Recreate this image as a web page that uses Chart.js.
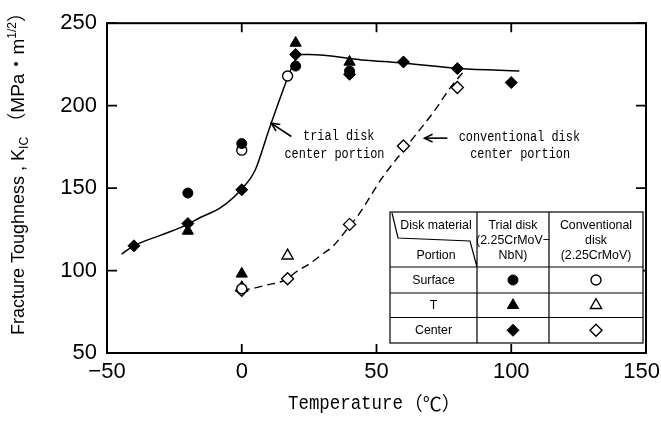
<!DOCTYPE html>
<html><head><meta charset="utf-8">
<script src="https://cdn.jsdelivr.net/npm/chart.js@4"></script>
<style>html,body{margin:0;padding:0;background:#fff}#wrap{width:661px;height:428px}</style>
</head><body><div id="wrap"><canvas id="c" width="661" height="428"></canvas></div>
<script>
// ---- data ----
const xTickValues = [-50, 0, 50, 100, 150];
const yTickValues = [50, 100, 150, 200, 250];

const trialSurfaceT = [-20, 0, 20, 40];
const trialSurfaceK = [147, 177, 224, 221];
const trialTT = [-20, 0, 20, 40];
const trialTK = [124, 98, 238, 226.5];
const trialCenterT = [-40, -20, 0, 20, 40, 60, 80, 100];
const trialCenterK = [115, 128.5, 149, 231, 219, 226.5, 222.5, 214];

const convSurfaceT = [0, 0, 17];
const convSurfaceK = [173, 89, 218];
const convTT = [0, 17];
const convTK = [89.5, 109];
const convCenterT = [0, 17, 40, 60, 80];
const convCenterK = [88, 95, 128, 175.5, 211];

const trialCurveT = [-44.6, -40, -30, -20, -15.6, -8, 0, 5, 10, 15, 18, 20, 22, 25, 46, 58.5, 80.7, 103];
const trialCurveK = [110, 115, 121.5, 128, 132, 138, 149.5, 161, 185, 208, 221, 228, 231, 231, 227.5, 226, 222.5, 221];
const convCurveT = [0, 5, 10, 15, 17, 20, 25, 30, 34, 40, 43, 52, 62, 72, 77, 83];
const convCurveK = [88, 89.5, 91.5, 93.5, 95, 99, 104, 110, 115, 127, 133, 156, 177, 198, 210, 222];

const tableHeader = ['Disk material', 'Portion'];
const tableCols = [['Trial disk', '(2.25CrMoV\u2212', 'NbN)'], ['Conventional', 'disk', '(2.25CrMoV)']];
const tableRows = ['Surface', 'T', 'Center'];
const tableStyles = ['circle', 'triangle', 'rectRot'];

const zip = (a, b) => a.map((v, i) => ({x: v, y: b[i]}));

function mk(label, T, K, style, filled, r) {
  return {label, data: zip(T, K), pointStyle: style, pointRadius: r, pointHoverRadius: r,
    backgroundColor: filled ? '#000' : '#fff', borderColor: '#000', borderWidth: filled ? 1 : 1.4, showLine: false};
}

const RAD = {circle: 5, triangle: 6.5, rectRot: 6};
const fmtX = v => (v < 0 ? '\u2212' + Math.abs(v) : '' + v);

function drawTextScaled(ctx, text, x, y, font, sx, align) {
  ctx.save();
  ctx.font = font;
  const w = ctx.measureText(text).width * sx;
  let x0 = x;
  if (align === 'center') x0 = x - w / 2;
  else if (align === 'right') x0 = x - w;
  ctx.translate(x0, y);
  ctx.scale(sx, 1);
  ctx.textAlign = 'left';
  ctx.textBaseline = 'middle';
  ctx.fillText(text, 0, 0);
  ctx.restore();
  return w;
}

function arrow(ctx, x1, y1, x2, y2) {
  ctx.save();
  ctx.strokeStyle = '#000'; ctx.lineWidth = 1.6;
  ctx.beginPath(); ctx.moveTo(x1, y1); ctx.lineTo(x2, y2); ctx.stroke();
  const a = Math.atan2(y2 - y1, x2 - x1), L = 9;
  ctx.beginPath();
  ctx.moveTo(x2 - L * Math.cos(a - 0.45), y2 - L * Math.sin(a - 0.45));
  ctx.lineTo(x2, y2);
  ctx.lineTo(x2 - L * Math.cos(a + 0.45), y2 - L * Math.sin(a + 0.45));
  ctx.stroke();
  ctx.restore();
}

const decor = {
  id: 'decor',
  afterDatasetsDraw(chart) {
    const ctx = chart.ctx, xs = chart.scales.x, ys = chart.scales.y, ca = chart.chartArea;
    ctx.save();
    ctx.fillStyle = '#000'; ctx.strokeStyle = '#000';
    // frame
    ctx.lineWidth = 2;
    ctx.strokeRect(ca.left, ca.top, ca.right - ca.left, ca.bottom - ca.top);
    // inward ticks
    ctx.lineWidth = 1.8;
    ctx.beginPath();
    xTickValues.forEach(v => {
      const px = xs.getPixelForValue(v);
      ctx.moveTo(px, ca.bottom); ctx.lineTo(px, ca.bottom - 9);
      ctx.moveTo(px, ca.top); ctx.lineTo(px, ca.top + 9);
    });
    yTickValues.forEach(v => {
      const py = ys.getPixelForValue(v);
      ctx.moveTo(ca.left, py); ctx.lineTo(ca.left + 10, py);
      ctx.moveTo(ca.right, py); ctx.lineTo(ca.right - 10, py);
    });
    ctx.stroke();

    // x tick labels (kept inside the canvas like the reference)
    const tickFont = '22px "Liberation Sans", Arial, sans-serif';
    ctx.font = tickFont;
    xs.ticks.forEach(t => {
      const s = fmtX(t.value);
      const w = ctx.measureText(s).width;
      let cx = xs.getPixelForValue(t.value);
      cx = Math.min(cx, chart.width - w / 2 - 1);
      drawTextScaled(ctx, s, cx, ca.bottom + 19, tickFont, 1, 'center');
    });

    // annotations
    const mono = '14px "Liberation Mono", "DejaVu Sans Mono", monospace';
    arrow(ctx, xs.getPixelForValue(18.4), ys.getPixelForValue(181.3), xs.getPixelForValue(11), ys.getPixelForValue(189.3));
    drawTextScaled(ctx, 'trial disk', xs.getPixelForValue(36), ys.getPixelForValue(181.3), mono, 0.85, 'center');
    drawTextScaled(ctx, 'center portion', xs.getPixelForValue(34.4), ys.getPixelForValue(170.5), mono, 0.85, 'center');
    arrow(ctx, xs.getPixelForValue(76.3), ys.getPixelForValue(180.3), xs.getPixelForValue(67.8), ys.getPixelForValue(180.3));
    drawTextScaled(ctx, 'conventional disk', xs.getPixelForValue(103), ys.getPixelForValue(180.7), mono, 0.85, 'center');
    drawTextScaled(ctx, 'center portion', xs.getPixelForValue(103.3), ys.getPixelForValue(170.5), mono, 0.85, 'center');

    // legend table
    const L = 390, T = 212, R = 643, B = 343, c1 = 477, c2 = 549;
    const rowsY = [267, 293, 317.5, 343];
    ctx.fillStyle = '#fff';
    ctx.fillRect(L, T, R - L, B - T);
    ctx.strokeStyle = '#000'; ctx.lineWidth = 1.2;
    ctx.strokeRect(L, T, R - L, B - T);
    ctx.beginPath();
    ctx.moveTo(c1, T); ctx.lineTo(c1, B);
    ctx.moveTo(c2, T); ctx.lineTo(c2, B);
    for (let i = 0; i < 3; i++) { ctx.moveTo(L, rowsY[i]); ctx.lineTo(R, rowsY[i]); }
    // slanted header divider
    ctx.moveTo(L + 2, T + 1); ctx.lineTo(L + 8, T + 26); ctx.lineTo(c1 - 7, T + 29); ctx.lineTo(c1, rowsY[0]);
    ctx.stroke();
    const tf = '13px "Liberation Sans", Arial, sans-serif';
    ctx.fillStyle = '#000';
    drawTextScaled(ctx, tableHeader[0], 436, 225, tf, 0.95, 'center');
    drawTextScaled(ctx, tableHeader[1], 436, 255, tf, 0.95, 'center');
    const colC = [(c1 + c2) / 2, (c2 + R) / 2];
    tableCols.forEach((lines, ci) => lines.forEach((t, li) => drawTextScaled(ctx, t, colC[ci], 225 + li * 15, tf, 0.95, 'center')));
    tableRows.forEach((t, ri) => {
      const cy = (rowsY[ri] + rowsY[ri + 1]) / 2;
      ctx.fillStyle = '#000';
      drawTextScaled(ctx, t, (L + c1) / 2, cy, tf, 0.95, 'center');
      const st = tableStyles[ri];
      ctx.lineWidth = 1; ctx.fillStyle = '#000'; ctx.strokeStyle = '#000';
      Chart.helpers.drawPoint(ctx, {pointStyle: st, radius: RAD[st], borderWidth: 1, rotation: 0}, colC[0], cy);
      ctx.lineWidth = 1.4; ctx.fillStyle = '#fff';
      Chart.helpers.drawPoint(ctx, {pointStyle: st, radius: RAD[st], borderWidth: 1.4, rotation: 0}, colC[1], cy);
    });

    // axis titles
    ctx.fillStyle = '#000';
    let w = drawTextScaled(ctx, 'Temperature', 288, 404, '20px "Liberation Mono", monospace', 0.87, 'left');
    drawTextScaled(ctx, '\uFF08\u2103\uFF09', 288 + w + 1, 404, '19px "Noto Sans CJK JP", sans-serif', 1, 'left');
    // y title
    ctx.save();
    ctx.translate(24, 335);
    ctx.rotate(-Math.PI / 2);
    ctx.textBaseline = 'alphabetic';
    ctx.textAlign = 'left';
    let x = 0;
    const seg = (t, font, dy) => { ctx.font = font; ctx.fillText(t, x, dy); x += ctx.measureText(t).width; };
    const sans = 'px "Liberation Sans", Arial, sans-serif';
    seg('Fracture Toughness , K', '18' + sans, 0);
    seg('IC', '12' + sans, 4);
    seg(' \uFF08MPa\u30FBm', '19px "Liberation Sans", "Noto Sans CJK JP", sans-serif', 0);
    seg('1/2', '12' + sans, -8);
    seg('\uFF09', '19px "Noto Sans CJK JP", sans-serif', 0);
    ctx.restore();
    ctx.restore();
  }
};

new Chart(document.getElementById('c'), {
  type: 'scatter',
  data: {
    datasets: [
      mk('Trial Surface', trialSurfaceT, trialSurfaceK, 'circle', true, RAD.circle),
      mk('Trial T', trialTT, trialTK, 'triangle', true, RAD.triangle),
      mk('Trial Center', trialCenterT, trialCenterK, 'rectRot', true, RAD.rectRot),
      mk('Conv Surface', convSurfaceT, convSurfaceK, 'circle', false, RAD.circle),
      mk('Conv T', convTT, convTK, 'triangle', false, RAD.triangle),
      mk('Conv Center', convCenterT, convCenterK, 'rectRot', false, RAD.rectRot),
      {label: 'trial disk center portion', data: zip(trialCurveT, trialCurveK), showLine: true, pointRadius: 0,
        borderColor: '#000', borderWidth: 1.5, cubicInterpolationMode: 'monotone', fill: false},
      {label: 'conventional disk center portion', data: zip(convCurveT, convCurveK), showLine: true, pointRadius: 0,
        borderColor: '#000', borderWidth: 1.4, borderDash: [8, 5], cubicInterpolationMode: 'monotone', fill: false}
    ]
  },
  options: {
    responsive: false, animation: false, devicePixelRatio: 1,
    layout: {padding: {top: 21, right: 15, left: 0, bottom: 0}},
    plugins: {legend: {display: false}, tooltip: {enabled: false}},
    scales: {
      x: {
        type: 'linear', min: -50, max: 150,
        afterBuildTicks: s => { s.ticks = xTickValues.map(v => ({value: v})); },
        afterFit: s => { s.height = 75; s.paddingLeft = 0; s.paddingRight = 0; },
        grid: {display: false, drawTicks: false}, border: {display: false},
        ticks: {display: false, callback: fmtX}
      },
      y: {
        type: 'linear', min: 50, max: 250,
        afterBuildTicks: s => { s.ticks = yTickValues.map(v => ({value: v})); },
        afterFit: s => { s.width = 107; },
        grid: {display: false, drawTicks: false}, border: {display: false},
        ticks: {color: '#000', padding: 10, font: {family: '"Liberation Sans", Arial, sans-serif', size: 22}}
      }
    }
  },
  plugins: [decor]
});
</script>
</body></html>
